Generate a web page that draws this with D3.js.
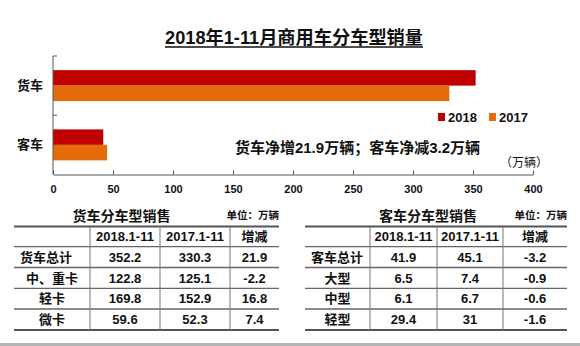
<!DOCTYPE html>
<html><head><meta charset="utf-8">
<script src="https://cdn.jsdelivr.net/npm/d3@7"></script>
<style>
body{margin:0;background:#fff;}
svg{display:block;font-family:"Liberation Sans","Noto Sans CJK SC",sans-serif;}
</style></head>
<body><svg id="c" width="580" height="346"></svg>
<script>
// ---- data ----
const chartTitle = "2018年1-11月商用车分车型销量";
const categories = ["货车", "客车"];
const seriesNames = ["2018", "2017"];
const values2018 = [352.2, 41.9];
const values2017 = [330.3, 45.1];
const xTicks = [0, 50, 100, 150, 200, 250, 300, 350, 400];
const note = "货车净增21.9万辆；客车净减3.2万辆";
const unitNote = "（万辆）";

const tableHeaders = ["2018.1-11", "2017.1-11", "增减"];
const truckTitle = "货车分车型销售";
const truckRows = ["货车总计", "中、重卡", "轻卡", "微卡"];
const truck2018 = [352.2, 122.8, 169.8, 59.6];
const truck2017 = [330.3, 125.1, 152.9, 52.3];
const truckDiff = [21.9, -2.2, 16.8, 7.4];
const busTitle = "客车分车型销售";
const busRows = ["客车总计", "大型", "中型", "轻型"];
const bus2018 = [41.9, 6.5, 6.1, 29.4];
const bus2017 = [45.1, 7.4, 6.7, 31];
const busDiff = [-3.2, -0.9, -0.6, -1.6];
const unitLabel = "单位：万辆";

const colors = {"2018": "#C00000", "2017": "#E46C0A"};

// ---- chart ----
const svg = d3.select("#c");

// title
const t = svg.append("text").attr("x", 294).attr("y", 44)
  .attr("text-anchor", "middle").attr("font-size", 18).attr("font-weight", "bold")
  .attr("fill", "#111").attr("textLength", 258).attr("lengthAdjust", "spacingAndGlyphs")
  .text(chartTitle);
svg.append("line").attr("x1", 165).attr("x2", 423).attr("y1", 47).attr("y2", 47)
  .attr("stroke", "#111").attr("stroke-width", 1.5);

const x = d3.scaleLinear().domain([0, 400]).range([53, 533]);
const y = d3.scaleBand().domain(categories).range([56, 174.5]).paddingInner(0.477).paddingOuter(0.2385);
const ySub = d3.scaleBand().domain(seriesNames).range([0, y.bandwidth()]);

const rows = categories.map((c, i) => ({cat: c, vals: [{s: "2018", v: values2018[i]}, {s: "2017", v: values2017[i]}]}));
const grp = svg.append("g").selectAll("g").data(rows).join("g")
  .attr("transform", d => `translate(0,${y(d.cat)})`);
grp.selectAll("rect").data(d => d.vals).join("rect")
  .attr("x", x(0)).attr("y", d => ySub(d.s))
  .attr("width", d => x(d.v) - x(0)).attr("height", ySub.bandwidth())
  .attr("fill", d => colors[d.s]);

// x axis
const xAxis = d3.axisBottom(x).tickValues(xTicks).tickSizeInner(-4).tickSizeOuter(0).tickPadding(11);
const xg = svg.append("g").attr("transform", "translate(0,174.5)").call(xAxis);
xg.select(".domain").attr("stroke", "#555");
xg.selectAll(".tick line").attr("stroke", "#555");
xg.selectAll(".tick text").attr("font-size", 11).attr("font-weight", "bold").attr("fill", "#111")
  .attr("font-family", "Liberation Sans");

// y axis (line + boundary ticks inward)
const [y0, y1] = y.range();
svg.append("line").attr("x1", x(0)).attr("x2", x(0)).attr("y1", y0).attr("y2", y1).attr("stroke", "#555");
const bounds = d3.range(categories.length + 1).map(i => y0 + i * y.step() - (i === 0 ? 0 : 0));
const bvals = [y0, (y0 + y1) / 2];
svg.selectAll(".yb").data(bvals).join("line").attr("class", "yb")
  .attr("x1", x(0)).attr("x2", x(0) + 4).attr("y1", d => d).attr("y2", d => d).attr("stroke", "#555");
svg.selectAll(".ylab").data(categories).join("text").attr("class", "ylab")
  .attr("x", 43).attr("y", d => y(d) + y.bandwidth() / 2).attr("dy", "0.35em")
  .attr("text-anchor", "end").attr("font-size", 13).attr("font-weight", "bold").attr("fill", "#111")
  .text(d => d);

// legend
const lg = svg.append("g").selectAll("g").data(seriesNames).join("g")
  .attr("transform", (d, i) => `translate(${438 + i * 51},113)`);
lg.append("rect").attr("width", 7).attr("height", 8).attr("fill", d => colors[d]);
lg.append("text").attr("x", 10).attr("y", 4).attr("dy", "0.36em").attr("font-size", 13)
  .attr("font-weight", "bold").attr("fill", "#111").text(d => d);

// annotation
svg.append("text").attr("x", 480).attr("y", 147.5).attr("dy", "0.36em").attr("text-anchor", "end")
  .attr("font-size", 15).attr("font-weight", "bold").attr("fill", "#111").text(note);
svg.append("text").attr("x", 548).attr("y", 163).attr("dy", "0.36em").attr("text-anchor", "end")
  .attr("font-size", 12).attr("fill", "#111").text(unitNote);

// ---- tables ----
function drawTable(cfg) {
  const g = svg.append("g");
  const {cols, rowYs, labels, c18, c17, diff} = cfg;
  const left = cols[0], right = cols[cols.length - 1];
  g.append("text").attr("x", cfg.titleX).attr("y", 215.5).attr("dy", "0.36em").attr("text-anchor", "middle")
    .attr("font-size", 14).attr("font-weight", "bold").attr("fill", "#111").text(cfg.title);
  g.append("text").attr("x", right).attr("y", 215.5).attr("dy", "0.36em").attr("text-anchor", "end")
    .attr("font-size", 10.5).attr("font-weight", "bold").attr("fill", "#111").text(unitLabel);
  // horizontal lines
  rowYs.forEach((yy, i) => {
    const edge = i === 0 || i === rowYs.length - 1;
    g.append("line").attr("x1", left).attr("x2", right).attr("y1", yy).attr("y2", yy)
      .attr("stroke", edge ? "#555" : "#666").attr("stroke-width", edge ? 2 : 1.3);
  });
  // vertical lines
  cols.slice(1, -1).forEach(cx => {
    g.append("line").attr("x1", cx).attr("x2", cx).attr("y1", rowYs[0]).attr("y2", rowYs[rowYs.length - 1])
      .attr("stroke", "#777").attr("stroke-width", 1);
  });
  const mid = (i) => (cols[i] + cols[i + 1]) / 2;
  const rmid = (j) => (rowYs[j] + rowYs[j + 1]) / 2;
  tableHeaders.forEach((h, i) => {
    g.append("text").attr("x", mid(i + 1)).attr("y", rmid(0)).attr("dy", "0.36em").attr("text-anchor", "middle")
      .attr("font-size", 13).attr("font-weight", "bold").attr("fill", "#111").text(h);
  });
  labels.forEach((lab, j) => {
    const tx = g.append("text").attr("y", rmid(j + 1)).attr("dy", "0.36em")
      .attr("font-size", 13).attr("font-weight", "bold").attr("fill", "#111").text(lab);
    if (j === 0) tx.attr("x", left + 6).attr("text-anchor", "start");
    else tx.attr("x", mid(0)).attr("text-anchor", "middle");
    [c18, c17, diff].forEach((arr, k) => {
      g.append("text").attr("x", mid(k + 1)).attr("y", rmid(j + 1)).attr("dy", "0.36em").attr("text-anchor", "middle")
        .attr("font-size", 13).attr("font-weight", "bold").attr("fill", "#111").text(String(arr[j]));
    });
  });
}
const rowYs = [226.5, 246.7, 267.5, 288.3, 309, 330];
drawTable({cols: [14, 90, 160, 230, 279], rowYs, labels: truckRows, c18: truck2018, c17: truck2017, diff: truckDiff, title: truckTitle, titleX: 121.5});
drawTable({cols: [305, 370, 437, 503, 567], rowYs, labels: busRows, c18: bus2018, c17: bus2017, diff: busDiff, title: busTitle, titleX: 428});

// bottom separator
svg.append("rect").attr("x", 0).attr("y", 343).attr("width", 580).attr("height", 3).attr("fill", "#b5b5b5");
</script></body></html>
